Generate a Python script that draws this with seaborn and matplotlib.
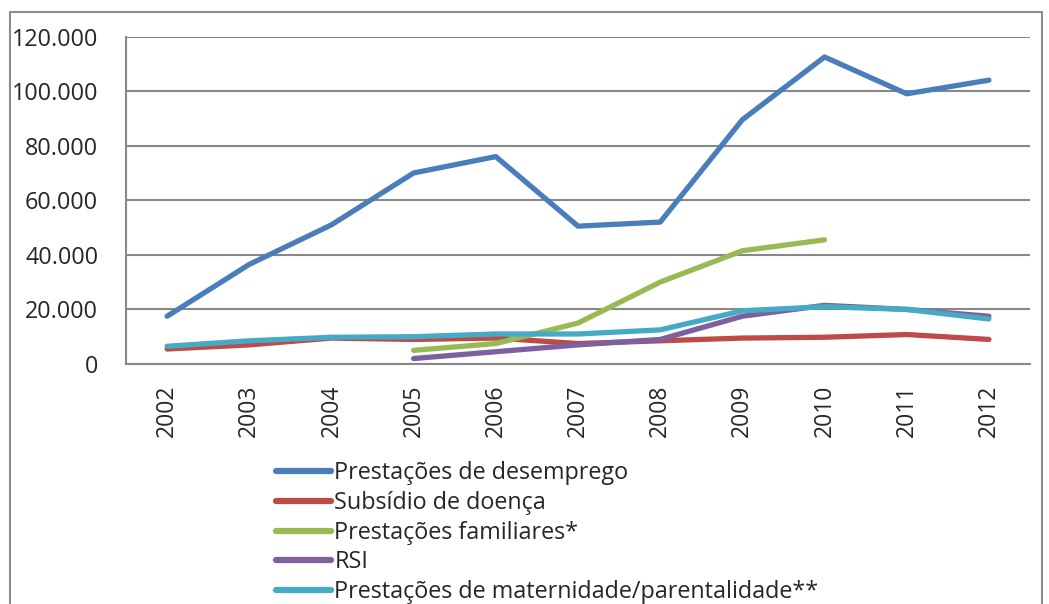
import numpy as np
import pandas as pd
import matplotlib
matplotlib.use("Agg")
import matplotlib.pyplot as plt
import seaborn as sns
from matplotlib.patches import Rectangle
from matplotlib.ticker import FuncFormatter

anos = [2002, 2003, 2004, 2005, 2006, 2007, 2008, 2009, 2010, 2011, 2012]
desemprego = [17500, 36500, 51000, 70000, 76000, 50500, 52000, 89500, 112500, 99000, 104000]
doenca = [5500, 7000, 9500, 9000, 9500, 7500, 8500, 9500, 9800, 10800, 9000]
familiares = [np.nan, np.nan, np.nan, 5000, 7500, 15000, 30000, 41500, 45500, np.nan, np.nan]
rsi = [np.nan, np.nan, np.nan, 2000, 4500, 7000, 9000, 17500, 21500, 20000, 17500]
maternidade = [6500, 8500, 9800, 10000, 11000, 11000, 12500, 19500, 21000, 20000, 16500]

series = ["Prestações de desemprego", "Subsídio de doença", "Prestações familiares*",
          "RSI", "Prestações de maternidade/parentalidade**"]
cores = ["#4a7ebb", "#be4b48", "#98b954", "#7d60a0", "#46aac5"]

df = pd.DataFrame({
    "Ano": anos * 5,
    "Valor": desemprego + doenca + familiares + rsi + maternidade,
    "Serie": sum([[s] * len(anos) for s in series], []),
}).dropna()

sns.set_style("white")
plt.rcParams["font.family"] = ["Open Sans", "DejaVu Sans"]

fig = plt.figure(figsize=(10.49, 6.04), dpi=100)
ax = fig.add_axes([126 / 1049, 1 - 364 / 604, 904 / 1049, 327.5 / 604])

sns.lineplot(data=df, x="Ano", y="Valor", hue="Serie", hue_order=series,
             palette=cores, linewidth=3.8, solid_capstyle="round",
             ax=ax, legend=True)

ax.set_xlim(2001.5, 2012.5)
ax.set_ylim(0, 120000)
ax.set_yticks(range(0, 120001, 20000))
ax.yaxis.set_major_formatter(FuncFormatter(lambda v, p: f"{int(v):,}".replace(",", ".")))
ax.set_xticks(anos)
ax.set_xticklabels([str(a) for a in anos], rotation=90)
ax.set_xticks(np.arange(2001.5, 2013, 1), minor=True)
ax.tick_params(axis="x", which="major", length=0, pad=15, labelsize=16.5)
ax.tick_params(axis="x", which="minor", length=8, width=1.5, color="#888888", direction="out")
ax.tick_params(axis="y", length=8, width=1.5, color="#888888", direction="out", pad=12, labelsize=16.8)
ax.set_xlabel("")
ax.set_ylabel("")
ax.grid(axis="y", color="#888888", linewidth=1.5)
ax.set_axisbelow(True)
for lado in ["top", "right"]:
    ax.spines[lado].set_visible(False)
for lado in ["left", "bottom"]:
    ax.spines[lado].set_color("#888888")
    ax.spines[lado].set_linewidth(1.5)

handles, labels = ax.get_legend_handles_labels()
ax.legend_.remove()
leg = fig.legend(handles, labels, loc="upper left", bbox_to_anchor=(276 / 1049, 1 - 461 / 604),
                 frameon=False, fontsize=16.8, handlelength=2.35, handletextpad=0.15,
                 labelspacing=0.25, borderpad=0, borderaxespad=0)
for linha in leg.get_lines():
    linha.set_linewidth(4.5)

fig.patches.append(Rectangle((10 / 1049, -0.05), 1032 / 1049, 1.05 - 12 / 604,
                             transform=fig.transFigure, fill=False,
                             edgecolor="#8c8c8c", linewidth=1.5))

fig.savefig("out.png", dpi=100)
